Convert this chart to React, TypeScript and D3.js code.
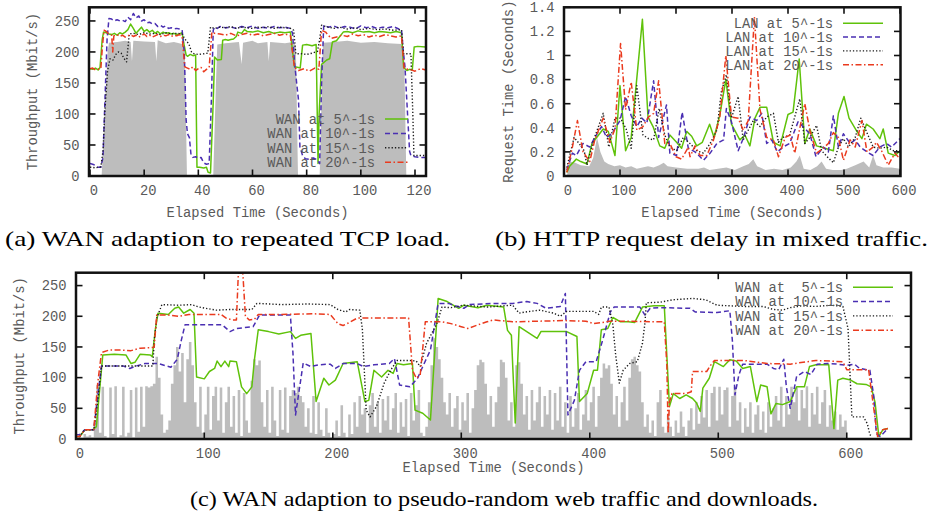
import React from "react";
import * as d3 from "d3";

type Pt = [number, number];

// ---------------- Panel (a): WAN adaption to repeated TCP load ----------------
const A_X_TICKS = [0, 20, 40, 60, 80, 100, 120];
const A_Y_TICKS = [0, 50, 100, 150, 200, 250];
const A_Y_LABELS = ["0", "50", "100", "150", "200", "250"];
const A_LEGEND = ["WAN at 5^-1s", "WAN at 10^-1s", "WAN at 15^-1s", "WAN at 20^-1s"];

const A_GREY: Pt[] = [
  [0, 0], [4.3, 0], [6.5, 200], [7, 215], [10, 216], [13, 218], [15, 216], [15.5, 185], [16, 218], [20, 217],
  [24, 216], [24.5, 185], [25, 219], [28, 214], [31, 216], [34, 213], [35, 210], [35.8, 0], [45.5, 0],
  [46.5, 150], [47, 212], [50, 214], [55, 216], [56, 180], [56.5, 215], [60, 218], [62, 214], [65.5, 216],
  [66, 185], [66.5, 216], [72, 214], [75, 216], [76, 210], [76.8, 0], [84.8, 0], [86, 215], [90, 216],
  [95, 218], [100, 215], [105, 216], [110, 214], [115, 213], [116, 200], [116.8, 0], [124, 0],
];

const A_WAN5: Pt[] = [
  [0, 173], [1, 172], [2, 174], [3, 171], [3.7, 175], [4.5, 220], [5, 232], [6, 231], [7, 229], [8, 228],
  [9, 230], [10, 227], [11, 231], [12, 229], [13, 232], [14, 236], [15, 245], [16, 238], [17, 230], [18, 235],
  [19, 240], [20, 233], [21, 236], [22, 232], [23, 235], [24, 230], [25, 233], [26, 229], [27, 232], [28, 230],
  [29, 231], [30, 229], [31, 230], [32, 228], [33, 229], [34, 231], [34.8, 210], [35.5, 195], [36, 193],
  [37, 196], [38, 194], [39, 195], [39.5, 14], [40.5, 14], [42, 13], [43, 14], [43.6, 6], [44.5, 5],
  [45.5, 120], [46, 192], [47, 187], [48.5, 188], [49, 219], [50, 220], [51, 219], [52, 220], [53, 221],
  [54, 225], [54.6, 232], [56, 230], [57, 236], [58, 233], [60, 232], [62, 234], [64, 231], [66, 233],
  [68, 230], [70, 232], [72, 231], [74, 232], [74.8, 200], [75.5, 176], [77, 175], [77.6, 174], [78.5, 211],
  [80, 212], [82, 210], [83.5, 212], [84.2, 20], [84.6, 100], [85.5, 180], [87.4, 187], [88.5, 189],
  [89.5, 216], [91, 218], [93.5, 232], [95, 233], [97, 231], [99, 234], [101, 232], [103, 233], [105, 231],
  [107, 233], [109, 232], [111, 231], [113, 233], [115, 231], [115.8, 175], [117, 170], [118, 172],
  [119, 171], [119.7, 208], [121, 209], [124, 208],
];

const A_WAN10: Pt[] = [
  [0, 20], [1, 19], [2, 17], [3, 14], [4, 14], [4.8, 30], [5.5, 120], [6.3, 220], [7, 254], [8, 253],
  [9, 250], [10, 252], [11, 250], [12, 251], [13, 249], [14, 256], [15, 252], [16, 262], [17, 255], [18, 258],
  [19, 250], [20, 252], [21, 247], [22, 248], [23, 245], [24, 246], [25, 241], [26, 243], [27, 240], [28, 242],
  [29, 238], [30, 239], [31, 237], [32, 238], [33, 237], [34, 236], [34.8, 200], [35.5, 90], [36, 68],
  [36.7, 62], [37.3, 34], [38, 30], [39, 31], [40, 29], [41, 30], [42, 21], [43, 19], [44, 20], [44.8, 120],
  [45.5, 235], [46, 240], [47, 238], [48, 241], [50, 239], [52, 240], [54, 238], [56, 241], [58, 239],
  [60, 242], [62, 238], [64, 240], [66, 238], [68, 241], [70, 239], [72, 240], [74, 238], [74.8, 230],
  [75.5, 184], [76.3, 150], [77, 122], [77.5, 47], [78.5, 33], [79.5, 28], [81, 27], [82.5, 29], [84, 26],
  [84.8, 20], [85.5, 150], [86.3, 243], [88, 240], [90, 242], [92, 238], [94, 241], [96, 240], [98, 237],
  [100, 242], [102, 239], [104, 241], [106, 238], [108, 240], [110, 239], [112, 241], [114, 237], [115, 236],
  [115.7, 200], [116.3, 176], [117, 120], [118, 40], [118.5, 33], [120, 31], [122, 30], [124, 30],
];

const A_WAN15: Pt[] = [
  [0, 14], [1, 14], [2, 13], [3, 14], [4, 15], [4.8, 40], [5.5, 106], [6.5, 170], [7.4, 189], [8.5, 187],
  [9.5, 196], [10.5, 200], [11.5, 198], [12.5, 190], [13.5, 184], [14.5, 229], [16, 230], [18, 228],
  [20, 231], [22, 229], [24, 230], [26, 228], [28, 231], [30, 229], [32, 230], [34, 229], [35, 221],
  [36.5, 213], [37.5, 200], [38.5, 197], [40, 196], [42, 197], [43.5, 198], [44.5, 240], [46, 238],
  [48, 240], [50, 239], [52, 241], [54, 238], [56, 240], [58, 239], [60, 238], [62, 240], [64, 239],
  [66, 241], [68, 238], [70, 240], [72, 239], [74, 238], [75.2, 235], [76, 197], [78, 197], [80, 196],
  [82, 198], [84, 201], [84.8, 220], [85.5, 243], [87, 241], [90, 238], [92, 240], [95, 237], [98, 239],
  [100, 236], [103, 238], [106, 236], [109, 237], [112, 235], [115, 236], [115.8, 197], [117, 197],
  [118.5, 197], [119.2, 100], [119.6, 33], [121, 33], [124, 33],
];

const A_WAN20: Pt[] = [
  [0, 173], [1, 174], [2, 171], [3, 172], [4, 173], [4.6, 210], [5.2, 235], [6, 233], [7, 229], [8, 227],
  [8.4, 200], [8.8, 226], [10, 228], [11, 225], [12, 227], [13, 224], [14, 226], [15, 228], [16, 225],
  [17, 227], [18, 224], [19, 226], [20, 229], [21, 225], [22, 227], [23, 224], [24, 226], [25, 228],
  [26, 225], [27, 227], [28, 226], [29, 228], [30, 225], [31, 227], [32, 226], [33, 228], [34, 225],
  [35, 176], [36, 174], [37, 172], [38, 176], [39, 170], [40, 173], [41, 175], [42, 168], [43, 172],
  [44, 175], [45, 232], [46, 230], [48, 229], [50, 227], [52, 230], [54, 226], [56, 228], [58, 230],
  [60, 227], [62, 229], [64, 226], [66, 228], [68, 230], [70, 227], [72, 229], [74, 226], [75.5, 175],
  [77, 170], [79, 173], [81, 169], [83, 174], [84.5, 172], [85.5, 235], [87, 232], [89, 222], [91, 224],
  [93, 227], [95, 225], [97, 229], [99, 226], [101, 228], [103, 224], [105, 227], [107, 225], [109, 228],
  [111, 226], [113, 224], [115, 226], [116, 173], [118, 172], [120, 169], [122, 173], [124, 171],
];

// ---------------- Panel (b): HTTP request delay in mixed traffic ----------------
const B_X_TICKS = [0, 100, 200, 300, 400, 500, 600];
const B_Y_TICKS = [0, 0.2, 0.4, 0.6, 0.8, 1, 1.2, 1.4];
const B_Y_LABELS = ["0", "0.2", "0.4", "0.6", "0.8", "1", "1.2", "1.4"];
const B_LEGEND = ["LAN at 5^-1s", "LAN at 10^-1s", "LAN at 15^-1s", "LAN at 20^-1s"];

const B_GREY: Pt[] = [
  [5, 0], [6, 0.02], [10, 0.12], [20, 0.11], [30, 0.09], [45, 0.08], [52, 0.15], [59, 0.32], [65, 0.2],
  [72, 0.12], [79, 0.1], [90, 0.08], [100, 0.09], [110, 0.07], [120, 0.08], [130, 0.06], [140, 0.07],
  [150, 0.08], [160, 0.07], [170, 0.09], [178, 0.11], [185, 0.08], [200, 0.07], [220, 0.06], [240, 0.06],
  [250, 0.07], [260, 0.05], [275, 0.06], [290, 0.07], [305, 0.05], [320, 0.08], [330, 0.1], [338, 0.14],
  [345, 0.08], [360, 0.05], [375, 0.06], [390, 0.05], [405, 0.07], [415, 0.12], [421, 0.17], [428, 0.06],
  [440, 0.05], [452, 0.08], [460, 0.12], [468, 0.06], [480, 0.05], [495, 0.05], [505, 0.06], [520, 0.09],
  [535, 0.12], [545, 0.07], [552, 0.17], [558, 0.09], [570, 0.07], [585, 0.07], [600, 0.06], [600, 0],
];

const B_LAN5: Pt[] = [
  [5, 0.03], [10, 0.08], [22, 0.14], [30, 0.12], [41, 0.1], [50, 0.27], [70, 0.39], [79, 0.37], [91, 0.17],
  [100, 0.75], [110, 0.21], [120, 0.32], [140, 1.3], [150, 0.49], [159, 0.41], [171, 0.25], [180, 0.23],
  [189, 0.34], [201, 0.28], [210, 0.23], [219, 0.37], [228, 0.33], [237, 0.25], [247, 0.28], [260, 0.43],
  [268, 0.32], [278, 0.5], [289, 0.8], [299, 0.43], [314, 0.3], [323, 0.34], [332, 0.25], [341, 0.48],
  [350, 0.57], [362, 0.57], [374, 0.28], [386, 0.25], [400, 0.51], [409, 0.53], [420, 0.97], [430, 0.27],
  [439, 0.39], [451, 0.25], [466, 0.23], [481, 0.21], [490, 0.52], [500, 0.66], [509, 0.48], [523, 0.37],
  [532, 0.31], [540, 0.43], [552, 0.39], [564, 0.31], [570, 0.39], [579, 0.19], [591, 0.17], [600, 0.21],
];

const B_LAN10: Pt[] = [
  [5, 0.05], [15, 0.19], [22, 0.17], [34, 0.27], [46, 0.24], [55, 0.32], [67, 0.41], [76, 0.32], [85, 0.35],
  [100, 0.46], [110, 0.66], [120, 0.5], [130, 0.41], [139, 0.48], [148, 0.44], [160, 0.79], [169, 0.32],
  [183, 0.59], [189, 0.19], [201, 0.17], [211, 0.53], [222, 0.23], [234, 0.2], [243, 0.16], [249, 0.13],
  [261, 0.19], [273, 0.27], [285, 0.3], [290, 0.56], [299, 0.45], [311, 0.21], [320, 0.31], [332, 0.49],
  [344, 0.46], [353, 0.52], [362, 0.27], [371, 0.3], [381, 0.2], [391, 0.24], [403, 0.27], [418, 0.45],
  [427, 0.41], [439, 0.35], [450, 0.16], [463, 0.24], [472, 0.2], [481, 0.5], [490, 0.24], [499, 0.35],
  [511, 0.27], [520, 0.3], [529, 0.24], [541, 0.2], [552, 0.17], [564, 0.24], [576, 0.27], [585, 0.24],
  [600, 0.31],
];

const B_LAN15: Pt[] = [
  [5, 0.07], [18, 0.32], [27, 0.27], [36, 0.21], [41, 0.09], [53, 0.3], [70, 0.52], [80, 0.24], [91, 0.48],
  [101, 0.48], [111, 0.39], [120, 0.23], [130, 0.75], [141, 0.34], [151, 0.31], [160, 0.3], [170, 0.56],
  [180, 0.34], [189, 0.24], [201, 0.21], [213, 0.32], [225, 0.27], [237, 0.21], [249, 0.19], [261, 0.27],
  [273, 0.38], [281, 0.7], [290, 0.84], [299, 0.48], [311, 0.66], [320, 0.3], [329, 0.38], [338, 0.46],
  [350, 0.41], [362, 0.49], [374, 0.52], [383, 0.28], [391, 0.32], [403, 0.34], [412, 0.49], [421, 0.64],
  [430, 0.27], [439, 0.32], [451, 0.42], [460, 0.21], [470, 0.16], [481, 0.11], [490, 0.24], [499, 0.31],
  [508, 0.24], [520, 0.32], [530, 0.48], [540, 0.37], [552, 0.24], [564, 0.23], [576, 0.24], [588, 0.21],
  [600, 0.21],
];

const B_LAN20: Pt[] = [
  [5, 0.03], [15, 0.24], [24, 0.46], [34, 0.2], [46, 0.12], [55, 0.3], [70, 0.48], [82, 0.28], [91, 0.39],
  [101, 1.1], [110, 0.55], [120, 0.78], [130, 0.38], [141, 0.41], [151, 0.49], [160, 0.52], [169, 0.79],
  [180, 0.27], [189, 0.27], [200, 0.16], [210, 0.14], [222, 0.24], [225, 0.16], [234, 0.25], [243, 0.17],
  [255, 0.17], [267, 0.3], [278, 0.48], [289, 1.0], [299, 0.49], [311, 0.48], [320, 0.38], [329, 0.46],
  [340, 1.32], [350, 0.55], [362, 0.32], [374, 0.3], [383, 0.16], [395, 0.32], [404, 0.34], [412, 0.19],
  [430, 0.6], [439, 0.38], [451, 0.19], [463, 0.23], [472, 0.27], [481, 0.36], [490, 0.32], [499, 0.13],
  [511, 0.3], [520, 0.24], [532, 0.46], [541, 0.2], [552, 0.24], [558, 0.28], [567, 0.21], [579, 0.09],
  [591, 0.19], [600, 0.14],
];

// ---------------- Panel (c): pseudo-random web traffic and downloads ----------------
const C_X_TICKS = [0, 100, 200, 300, 400, 500, 600];
const C_Y_TICKS = [0, 50, 100, 150, 200, 250];
const C_Y_LABELS = ["0", "50", "100", "150", "200", "250"];
const C_LEGEND = ["WAN at  5^-1s", "WAN at 10^-1s", "WAN at 15^-1s", "WAN at 20^-1s"];
const C_GREY_STEP = 2; // seconds between background samples
const C_GREY: number[] = [
  3, 5, 2, 8, 4, 6, 3, 30, 88, 10, 85, 5, 2, 84, 8, 86, 3, 6, 85, 4, 10, 80, 3, 84, 12,
  85, 20, 86, 84, 86, 90, 134, 100, 40, 10, 15, 30, 90, 120, 150, 110, 140, 60, 130, 158, 120, 60, 20, 85, 10,
  40, 85, 15, 70, 85, 30, 84, 10, 60, 85, 20, 70, 10, 80, 5, 75, 30, 10, 95, 130, 120, 128, 60, 20, 80,
  10, 85, 30, 5, 80, 15, 84, 10, 70, 80, 75, 85, 70, 60, 20, 50, 10, 70, 8, 60, 15, 5, 50, 10, 3,
  8, 30, 5, 55, 10, 3, 40, 8, 60, 20, 70, 40, 50, 10, 55, 75, 20, 60, 10, 65, 30, 70, 15, 50, 75,
  10, 60, 20, 65, 5, 75, 30, 55, 80, 10, 5, 20, 60, 120, 164, 150, 130, 100, 60, 40, 75, 20, 50, 70, 15,
  60, 30, 75, 10, 50, 80, 120, 129, 125, 90, 40, 70, 20, 60, 85, 129, 125, 100, 30, 60, 20, 120, 125, 90, 40,
  70, 15, 80, 30, 60, 85, 20, 70, 40, 80, 15, 75, 30, 85, 20, 60, 10, 70, 20, 50, 75, 15, 40, 80, 30,
  60, 85, 20, 70, 100, 123, 115, 120, 90, 40, 70, 20, 60, 85, 30, 100, 130, 134, 120, 110, 60, 20, 40, 10, 30,
  5, 60, 80, 20, 10, 40, 20, 5, 30, 10, 45, 20, 5, 30, 50, 15, 60, 25, 70, 35, 80, 20, 75, 85, 30,
  85, 40, 80, 84, 20, 70, 85, 30, 60, 10, 50, 20, 60, 10, 40, 55, 15, 45, 10, 60, 20, 50, 70, 30, 85,
  20, 70, 40, 85, 60, 84, 30, 80, 50, 86, 20, 75, 40, 85, 25, 60, 80, 20, 55, 30, 45, 15, 40, 20, 30,
  0,
];

const C_WAN5: Pt[] = [
  [0, 4], [3, 4], [7, 15], [13, 15], [16, 20], [21, 137], [30, 138], [39, 137], [43, 123], [46, 125],
  [50, 138], [58, 137], [59.5, 134], [62, 180], [64, 205], [72, 203], [77, 213], [80, 215], [84, 205],
  [89, 211], [92, 205], [94, 101], [100, 98], [104, 110], [108, 115], [110, 127], [113, 118], [116, 127],
  [119, 118], [120, 127], [125, 126], [129, 85], [133, 74], [137, 85], [139, 129], [142, 178], [150, 175],
  [158, 171], [167, 175], [171, 164], [175, 169], [183, 172], [187, 61], [193, 99], [197, 88], [202, 96],
  [208, 123], [219, 126], [225, 61], [228, 63], [232, 112], [238, 101], [243, 112], [247, 107], [250, 123],
  [255, 121], [262, 123], [264, 47], [270, 42], [276, 31], [282, 229], [289, 224], [298, 213], [302, 218],
  [313, 214], [320, 218], [333, 215], [336, 177], [339, 169], [342, 26], [345, 183], [359, 164], [362, 175],
  [382, 175], [390, 167], [392, 61], [398, 74], [403, 112], [406, 112], [409, 178], [414, 180], [418, 198],
  [424, 191], [430, 191], [435, 190], [441, 215], [450, 217], [458, 217], [462, 53], [465, 74], [470, 66],
  [475, 72], [480, 66], [483, 59], [486, 45], [488, 83], [493, 99], [497, 126], [504, 118], [509, 129],
  [514, 127], [519, 115], [525, 118], [530, 61], [533, 88], [538, 85], [541, 41], [545, 58], [550, 56],
  [556, 61], [561, 85], [567, 85], [571, 118], [576, 121], [582, 121], [586, 121], [590, 17], [593, 96],
  [597, 99], [603, 96], [608, 90], [615, 89], [619, 85], [622, 60], [625, 4], [628, 15], [632, 17],
];

const C_WAN10: Pt[] = [
  [0, 7], [3, 7], [7, 15], [14, 15], [17, 70], [20, 119], [37, 119], [42, 115], [47, 119], [54, 123],
  [64, 123], [74, 117], [79, 130], [82, 160], [85, 186], [110, 186], [114, 186], [120, 175], [125, 180],
  [138, 183], [143, 202], [167, 202], [169, 140], [171, 39], [177, 124], [183, 118], [189, 121], [198, 122],
  [202, 115], [208, 123], [219, 123], [224, 118], [232, 121], [244, 123], [248, 131], [252, 88], [260, 85],
  [266, 99], [270, 118], [276, 145], [282, 221], [290, 221], [297, 216], [302, 213], [306, 219], [325, 221],
  [340, 221], [351, 224], [359, 221], [366, 213], [377, 216], [381, 237], [383, 39], [388, 63], [392, 112],
  [397, 126], [405, 126], [410, 161], [416, 207], [419, 215], [430, 215], [439, 215], [443, 202], [447, 213],
  [455, 214], [478, 213], [482, 207], [499, 206], [509, 209], [511, 160], [513, 72], [516, 104], [519, 122],
  [530, 122], [538, 122], [543, 115], [547, 113], [551, 130], [553, 85], [556, 50], [561, 102], [567, 110],
  [572, 105], [577, 122], [585, 123], [593, 122], [600, 120], [606, 122], [610, 115], [618, 112], [621, 70],
  [623, 9], [626, 4], [632, 17],
];

const C_WAN15: Pt[] = [
  [0, 4], [3, 4], [7, 15], [14, 15], [17, 60], [20, 119], [40, 119], [60, 119], [61, 160], [63, 197],
  [67, 219], [80, 218], [90, 219], [96, 215], [109, 210], [120, 211], [137, 211], [141, 221], [160, 219],
  [180, 220], [198, 219], [204, 211], [210, 207], [213, 211], [221, 210], [223, 180], [226, 47], [229, 36],
  [234, 53], [240, 91], [245, 112], [250, 128], [260, 128], [265, 127], [268, 118], [273, 156], [276, 168],
  [281, 188], [285, 215], [292, 214], [301, 218], [320, 215], [340, 218], [345, 205], [350, 207], [361, 210],
  [372, 205], [377, 200], [382, 208], [392, 208], [403, 208], [407, 203], [409, 215], [415, 215], [418, 186],
  [420, 140], [423, 91], [426, 112], [431, 123], [437, 126], [441, 156], [443, 190], [444, 222], [455, 223],
  [465, 227], [480, 229], [490, 227], [499, 218], [520, 216], [535, 216], [543, 211], [550, 210], [556, 214],
  [565, 217], [576, 216], [588, 218], [597, 216], [601, 180], [604, 36], [613, 36], [616, 25], [618, 7],
  [620, 4],
];

const C_WAN20: Pt[] = [
  [0, 4], [3, 4], [7, 15], [14, 15], [17, 90], [20, 141], [26, 145], [35, 145], [43, 144], [50, 148],
  [60, 149], [61, 150], [63, 202], [72, 202], [80, 200], [88, 203], [100, 203], [113, 203], [117, 197],
  [122, 194], [125, 194], [126.5, 270], [130, 270], [132, 200], [135, 194], [139, 195], [142, 203],
  [160, 203], [185, 204], [198, 203], [204, 188], [208, 185], [212, 189], [219, 197], [230, 197], [250, 197],
  [259, 197], [262, 112], [265, 99], [268, 104], [272, 191], [285, 191], [292, 188], [300, 183], [305, 180],
  [313, 186], [320, 191], [325, 194], [340, 191], [360, 192], [380, 193], [397, 192], [403, 188], [410, 190],
  [415, 192], [430, 192], [450, 191], [458, 191], [460, 120], [461, 9], [462, 60], [464, 74], [475, 74],
  [479, 77], [480, 110], [485, 110], [491, 110], [494, 120], [497, 128], [520, 128], [538, 123], [556, 122],
  [576, 128], [597, 126], [600, 113], [617, 113], [621, 50], [624, 4], [628, 15], [632, 17],
];

// ---------------- styling ----------------
const GREEN = "#5fc20a";
const BLUE = "#4a2fb2";
const BLACK = "#1c1c1c";
const RED = "#ea3a1e";
const GREY = "#bdbdbd";
const MONO = "'Liberation Mono', 'DejaVu Sans Mono', monospace";
const TEXT = "#5a5a5a";
const STYLES = [
  { color: GREEN, dash: undefined as string | undefined, width: 1.5 },
  { color: BLUE, dash: "5,3", width: 1.5 },
  { color: BLACK, dash: "1.3,2", width: 1.4 },
  { color: RED, dash: "6,2.5,1.5,2.5", width: 1.5 },
];

interface PanelProps {
  id: string;
  box: { l: number; r: number; t: number; b: number };
  xDom: [number, number];
  xRange: [number, number];
  yDom: [number, number];
  xTicks: number[];
  yTicks: number[];
  yLabels: string[];
  grey: Pt[];
  greyStep?: boolean;
  series: Pt[][];
  legend: string[];
  legX: number;
  legY: number;
  legDy: number;
  sample: [number, number];
  yTitle: string;
  yTitleX: number;
  xTitleY: number;
  xTickY: number;
}

function Panel(p: PanelProps) {
  const { l, r, t, b } = p.box;
  const x = d3.scaleLinear().domain(p.xDom).range(p.xRange);
  const y = d3.scaleLinear().domain(p.yDom).range([b, t]);
  const line = d3.line<Pt>().x((d) => x(d[0])).y((d) => y(d[1]));
  const area = d3
    .area<Pt>()
    .x((d) => x(d[0]))
    .y0(y(0))
    .y1((d) => y(d[1]))
    .curve(p.greyStep ? d3.curveStepAfter : d3.curveLinear);
  const tl = 6.5;
  const fs = 13.8;
  return (
    <g>
      <defs>
        <clipPath id={p.id}>
          <rect x={l} y={t} width={r - l} height={b - t} />
        </clipPath>
      </defs>
      <g clipPath={`url(#${p.id})`}>
        <path d={area(p.grey) || ""} fill={GREY} stroke="none" />
        {p.series.map((s, i) => (
          <path
            key={i}
            d={line(s) || ""}
            fill="none"
            stroke={STYLES[i].color}
            strokeWidth={STYLES[i].width}
            strokeDasharray={STYLES[i].dash}
            strokeLinejoin="round"
          />
        ))}
      </g>
      <g stroke="#111" strokeWidth={1.6}>
        {p.xTicks.map((v) => (
          <g key={"xt" + v}>
            <line x1={x(v)} x2={x(v)} y1={b} y2={b - tl} />
            <line x1={x(v)} x2={x(v)} y1={t} y2={t + tl} />
          </g>
        ))}
        {p.yTicks.map((v) => (
          <g key={"yt" + v}>
            <line x1={l} x2={l + tl} y1={y(v)} y2={y(v)} />
            <line x1={r} x2={r - tl} y1={y(v)} y2={y(v)} />
          </g>
        ))}
      </g>
      <rect x={l} y={t} width={r - l} height={b - t} fill="none" stroke="#111" strokeWidth={2.5} />
      <g fontFamily={MONO} fontSize={fs} fill={TEXT}>
        {p.xTicks.map((v) => (
          <text key={"xl" + v} x={x(v) + 4} y={p.xTickY} dy="0.35em" textAnchor="middle">
            {String(v)}
          </text>
        ))}
        {p.yTicks.map((v, i) => (
          <text key={"yl" + v} x={l - 9.5} y={y(v)} dy="0.35em" textAnchor="end">
            {p.yLabels[i]}
          </text>
        ))}
        <text
          x={p.yTitleX}
          y={(t + b) / 2}
          dy="0.35em"
          textAnchor="middle"
          transform={`rotate(-90 ${p.yTitleX} ${(t + b) / 2})`}
        >
          {p.yTitle}
        </text>
        <text x={(l + r) / 2} y={p.xTitleY} dy="0.35em" textAnchor="middle">
          Elapsed Time (Seconds)
        </text>
      </g>
      <g fontFamily={MONO} fontSize={fs} fill={TEXT}>
        {p.legend.map((lab, i) => {
          const yy = p.legY + i * p.legDy;
          return (
            <g key={"lg" + i}>
              <text x={p.legX} y={yy} dy="0.35em" textAnchor="end" style={{ whiteSpace: "pre" }}>
                {lab}
              </text>
              <line
                x1={p.sample[0]}
                x2={p.sample[1]}
                y1={yy}
                y2={yy}
                stroke={STYLES[i].color}
                strokeWidth={STYLES[i].width}
                strokeDasharray={STYLES[i].dash}
              />
            </g>
          );
        })}
      </g>
    </g>
  );
}

export default function App() {
  const cGrey: Pt[] = C_GREY.map((v, i) => [i * C_GREY_STEP, v] as Pt);
  return (
    <svg
      width={930}
      height={520}
      style={{ position: "absolute", left: 0, top: 0, background: "#fff" }}
      xmlns="http://www.w3.org/2000/svg"
    >
      <rect x={0} y={0} width={930} height={520} fill="#fff" />
      <Panel
        id="clipA"
        box={{ l: 89, r: 426, t: 7.3, b: 176 }}
        xDom={[0, 120]}
        xRange={[90, 415]}
        yDom={[0, 272]}
        xTicks={A_X_TICKS}
        yTicks={A_Y_TICKS}
        yLabels={A_Y_LABELS}
        grey={A_GREY}
        series={[A_WAN5, A_WAN10, A_WAN15, A_WAN20]}
        legend={A_LEGEND}
        legX={375}
        legY={119}
        legDy={14.4}
        sample={[385, 408]}
        yTitle="Throughput (Mbit/s)"
        yTitleX={32}
        xTitleY={212}
        xTickY={190}
      />
      <Panel
        id="clipB"
        box={{ l: 564, r: 900.5, t: 7.3, b: 176 }}
        xDom={[0, 600]}
        xRange={[564, 900]}
        yDom={[0, 1.4]}
        xTicks={B_X_TICKS}
        yTicks={B_Y_TICKS}
        yLabels={B_Y_LABELS}
        grey={B_GREY}
        series={[B_LAN5, B_LAN10, B_LAN15, B_LAN20]}
        legend={B_LEGEND}
        legX={833}
        legY={23.3}
        legDy={13.8}
        sample={[843, 883]}
        yTitle="Request Time (Seconds)"
        yTitleX={508}
        xTitleY={212}
        xTickY={190}
      />
      <Panel
        id="clipC"
        box={{ l: 76, r: 911, t: 272.7, b: 439 }}
        xDom={[0, 650]}
        xRange={[75.8, 911]}
        yDom={[0, 271]}
        xTicks={C_X_TICKS}
        yTicks={C_Y_TICKS}
        yLabels={C_Y_LABELS}
        grey={cGrey}
        greyStep={true}
        series={[C_WAN5, C_WAN10, C_WAN15, C_WAN20]}
        legend={C_LEGEND}
        legX={843}
        legY={287.3}
        legDy={14.3}
        sample={[853, 893]}
        yTitle="Throughput (Mbit/s)"
        yTitleX={19}
        xTitleY={467}
        xTickY={453}
      />
      <g fontFamily="'Liberation Serif', 'DejaVu Serif', serif" fontSize={22} fill="#000">
        <text x={5} y={246} textLength={445} lengthAdjust="spacingAndGlyphs">
          (a) WAN adaption to repeated TCP load.
        </text>
        <text x={495} y={246} textLength={433} lengthAdjust="spacingAndGlyphs">
          (b) HTTP request delay in mixed traffic.
        </text>
        <text x={190} y={506} textLength={628} lengthAdjust="spacingAndGlyphs">
          (c) WAN adaption to pseudo-random web traffic and downloads.
        </text>
      </g>
    </svg>
  );
}
